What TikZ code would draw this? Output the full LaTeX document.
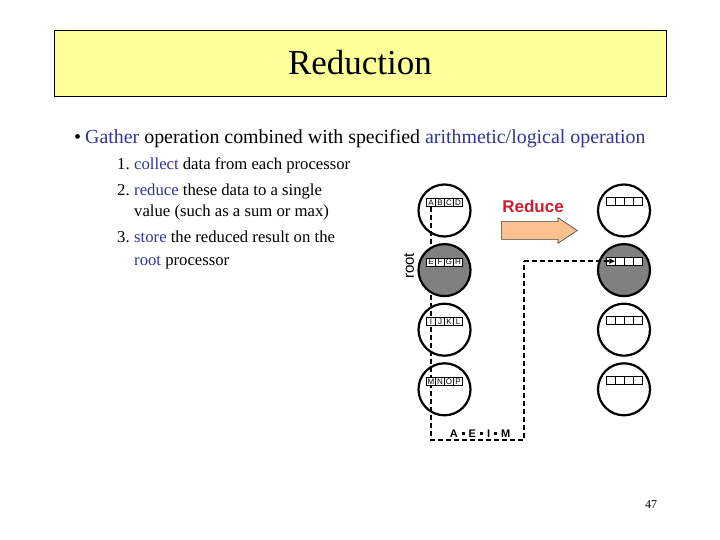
\documentclass[tikz,border=0pt]{standalone}
\usepackage{fontspec}
\setmainfont{Liberation Serif}
\setsansfont{Liberation Sans}
\usetikzlibrary{arrows.meta, positioning, shapes.arrows, backgrounds}
\definecolor{titlefill}{HTML}{FFFF99}
\definecolor{keyword}{HTML}{333399}
\definecolor{reducered}{HTML}{CC1F2F}
\definecolor{arrowfill}{HTML}{FAC090}
\definecolor{rootgray}{HTML}{808080}

\newcommand{\kw}[1]{\textcolor{keyword}{#1}}
\newcommand{\gsep}{\hspace{4pt}\rule[2pt]{3pt}{3pt}\hspace{4pt}}

% row of four data cells on top of a processor
\newcommand{\datarow}[2]{%
  \foreach \ch [count=\k] in {#2}
    \node[cell] (#1c\k) at ([xshift={(\k-2.5)*9pt}, yshift=8pt]#1.center) {\ch};
}
\newcommand{\emptyrow}[1]{%
  \foreach \k in {1,...,4}
    \node[cell] (#1c\k) at ([xshift={(\k-2.5)*9pt}, yshift=9pt]#1.center) {};
}

\begin{document}
\begin{tikzpicture}[
  x=1pt, y=-1pt,
  node distance=59.6pt,
  titlebox/.style={draw, fill=titlefill, line width=0.8pt, minimum width=612pt, minimum height=66pt, inner sep=0pt, font=\fontsize{35}{40}\selectfont},
  slidetext/.style={anchor=base west, inner sep=0pt, font=\fontsize{19.9}{22}\selectfont},
  listtext/.style={anchor=base west, inner sep=0pt, font=\fontsize{16.7}{19}\selectfont},
  proc/.style={circle, draw, line width=2.2pt, minimum size=52pt, inner sep=0pt},
  rootproc/.style={proc, fill=rootgray},
  cell/.style={draw, line width=0.7pt, fill=white, minimum width=9pt, minimum height=8pt, inner sep=0pt, font=\sffamily\fontsize{8}{8}\selectfont},
  gatherline/.style={line width=1.8pt, dash pattern=on 5pt off 3pt},
  reducearrow/.style={single arrow, fill=arrowfill, draw=black!75, line width=0.6pt, minimum height=76pt, minimum width=0pt, inner xsep=0pt, inner ysep=8.5pt, single arrow head extend=4pt, single arrow tip angle=67}
]
  \useasboundingbox (0,0) rectangle (720,540);

  % title and text
  \node[titlebox] (title) at (360,63) {Reduction};
  \node[slidetext] (bullet) at (74,144) {\textbullet};
  \node[slidetext] (gather) at (85,144) {\kw{Gather} operation combined with specified \kw{arithmetic/logical operation}};
  \foreach \num/\yy in {1/170, 2/196, 3/243}
    \node[listtext] (num\num) at (117,\yy) {\num.};
  \node[listtext] (step1) at (134,170) {\kw{collect} data from each processor};
  \node[listtext] (step2) at (134,196) {\kw{reduce} these data to a single};
  \node[listtext] (step2b) at (134,217) {value (such as a sum or max)};
  \node[listtext] (step3) at (134,243) {\kw{store} the reduced result on the};
  \node[listtext] (step3b) at (134,265) {\kw{root} processor};

  % processors before
  \node[proc] (p1) at (444.5,210.5) {};
  \node[rootproc, below of=p1] (p2) {};
  \node[proc, below of=p2] (p3) {};
  \node[proc, below of=p3] (p4) {};
  \datarow{p1}{A,B,C,D}
  \datarow{p2}{E,F,G,H}
  \datarow{p3}{I,J,K,L}
  \datarow{p4}{M,N,O,P}
  \node[rotate=90, font=\sffamily\fontsize{15}{15}\selectfont] (rootlabel) at (409,266) {root};

  % processors after
  \node[proc] (q1) at (624,210.5) {};
  \node[rootproc, below of=q1] (q2) {};
  \node[proc, below of=q2] (q3) {};
  \node[proc, below of=q3] (q4) {};
  \emptyrow{q1}
  \emptyrow{q2}
  \emptyrow{q3}
  \emptyrow{q4}

  \node[font=\sffamily\bfseries\fontsize{17}{20}\selectfont, text=reducered, anchor=base] (reduce) at (533,213) {Reduce};
  \node[reducearrow, anchor=tail] (bigarrow) at (501,230.5) {};

  % gather path
  \coordinate (gcorner) at (524,440);
  \coordinate (gturn) at (gcorner |- q2c1.east);
  \begin{scope}[on background layer]
    \fill[white] (0,0) rectangle (720,540);
    \draw[gatherline] (p1c1.south) |- (gcorner) -- (gturn);
  \end{scope}
  \draw[gatherline, -{Latex[length=6pt, width=6pt]}] (gturn) -- (q2c1.east);
  \node[anchor=base, font=\sffamily\bfseries\fontsize{11}{13}\selectfont] (gathered) at (480,437) {A\gsep E\gsep I\gsep M};

  \node[anchor=base, font=\fontsize{12}{14}\selectfont] (pagenum) at (651,508) {47};
\end{tikzpicture}
\end{document}
